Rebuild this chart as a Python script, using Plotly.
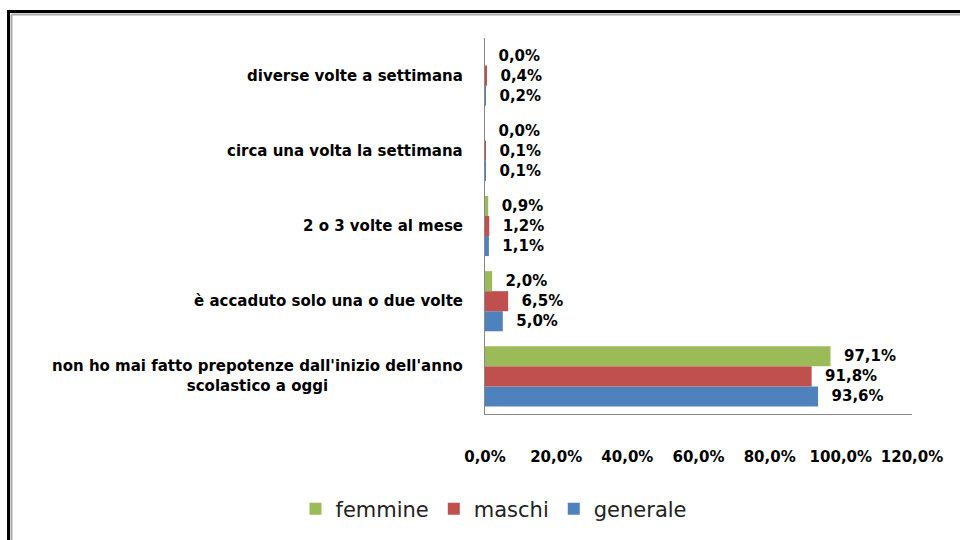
import plotly.graph_objects as go

categories = [
    "non ho mai fatto prepotenze dall'inizio dell'anno<br>scolastico a oggi",
    "è accaduto solo una o due volte",
    "2 o 3 volte al mese",
    "circa una volta la settimana",
    "diverse volte a settimana",
]
generale = [93.6, 5.0, 1.1, 0.1, 0.2]
maschi = [91.8, 6.5, 1.2, 0.1, 0.4]
femmine = [97.1, 2.0, 0.9, 0.0, 0.0]
x_ticks = [0, 20, 40, 60, 80, 100, 120]
x_tick_labels = ["0,0%", "20,0%", "40,0%", "60,0%", "80,0%", "100,0%", "120,0%"]

FONT = "DejaVu Sans"
L, R, T, B = 485, 48, 38, 126
W, H = 960, 540
pw = W - L - R
ph = H - T - B


def fmt(v):
    return ("%.1f" % v).replace(".", ",") + "%"


fig = go.Figure()
series = [("generale", generale, "#4F81BD"), ("maschi", maschi, "#C0504D"), ("femmine", femmine, "#9BBB59")]
ypos = list(range(len(categories)))
for name, vals, col in series:
    fig.add_trace(go.Bar(
        name=name, y=ypos, x=vals, orientation="h",
        marker=dict(color=col, line=dict(width=0)),
        text=["\u00a0\u00a0" + fmt(v) for v in vals],
        textposition="outside", cliponaxis=False,
        textfont=dict(family=FONT, size=15, color="#000000", weight="bold"),
        hoverinfo="skip",
    ))

for i, c in enumerate(categories):
    fig.add_annotation(
        x=0, xref="paper", y=i, yref="y", text=c, showarrow=False,
        xanchor="right", yanchor="middle", align="center", xshift=-20,
        font=dict(family=FONT, size=15, color="#000000", weight="bold"),
    )

# frame
def px_x(p):
    return (p - L) / pw

def px_y(p):
    return (H - B - p) / ph

fig.add_shape(type="line", xref="paper", yref="paper", x0=px_x(8.5), x1=px_x(965), y0=px_y(11.5), y1=px_y(11.5), line=dict(color="#000000", width=3))
fig.add_shape(type="line", xref="paper", yref="paper", x0=px_x(8.5), x1=px_x(8.5), y0=px_y(10), y1=px_y(545), line=dict(color="#000000", width=3))
fig.add_shape(type="line", xref="paper", yref="paper", x0=px_x(11.5), x1=px_x(965), y0=px_y(14.5), y1=px_y(14.5), line=dict(color="#A8A8A8", width=2))
fig.add_shape(type="line", xref="paper", yref="paper", x0=px_x(11.5), x1=px_x(11.5), y0=px_y(14.5), y1=px_y(545), line=dict(color="#A8A8A8", width=2))

fig.update_layout(
    width=W, height=H,
    margin=dict(l=L, r=R, t=T, b=B, autoexpand=False),
    paper_bgcolor="white", plot_bgcolor="white",
    barmode="group", bargap=0.2, bargroupgap=0,
    showlegend=True,
    legend=dict(
        orientation="h", traceorder="reversed",
        x=px_x(494), xanchor="center", y=px_y(509), yanchor="middle",
        font=dict(family=FONT, size=21, color="#222222"),
        itemclick=False, itemdoubleclick=False,
    ),
    xaxis=dict(
        range=[0, 120], tickvals=x_ticks, ticktext=x_tick_labels,
        showgrid=False, zeroline=False, showline=True, linecolor="#888888", linewidth=1,
        ticks="", ticklabelstandoff=29,
        tickfont=dict(family=FONT, size=15, color="#000000", weight="bold"),
    ),
    yaxis=dict(
        range=[-0.5, len(categories) - 0.5], showticklabels=False,
        showgrid=False, zeroline=False, showline=True, linecolor="#888888", linewidth=1,
        ticks="",
    ),
)

fig.write_html(
    "out.html",
    config={"displayModeBar": False},
    post_script="document.body.style.margin='0';document.body.style.overflow='hidden';",
)
